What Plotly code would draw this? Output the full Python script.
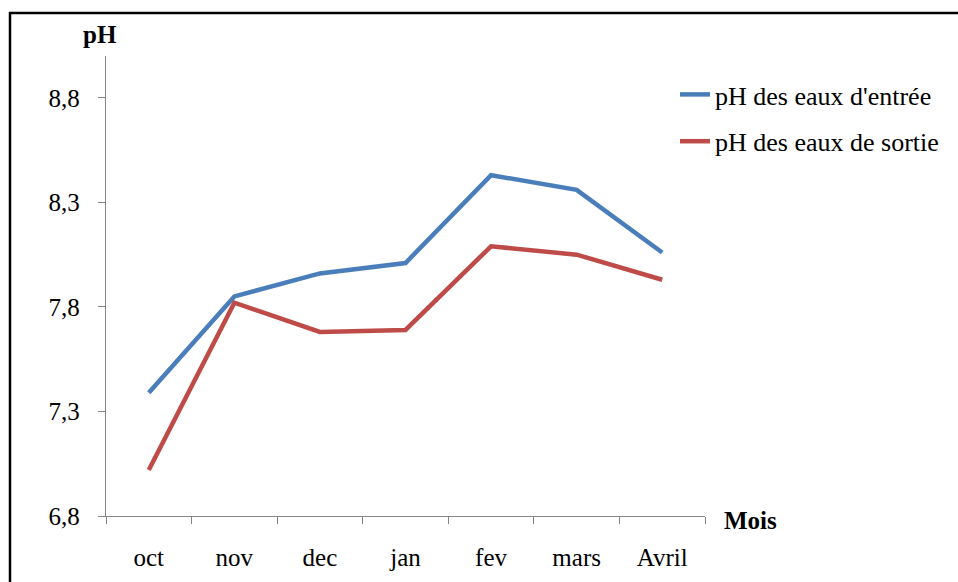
import plotly.graph_objects as go

months = ["oct", "nov", "dec", "jan", "fev", "mars", "Avril"]
ph_entree = [7.39, 7.85, 7.96, 8.01, 8.43, 8.36, 8.06]
ph_sortie = [7.02, 7.82, 7.68, 7.69, 8.09, 8.05, 7.93]
y_tickvals = [6.8, 7.3, 7.8, 8.3, 8.8]
y_ticktext = ["6,8", "7,3", "7,8", "8,3", "8,8"]
series_names = ["pH des eaux d'entrée", "pH des eaux de sortie"]

W, H = 958, 582
L, R, T, B = 106, 253, 56, 66
pw, ph = W - L - R, H - T - B

def px_x(x):
    return (x - L) / pw

def px_y(y):
    return (H - B - y) / ph

FONT = "Liberation Serif, Times New Roman, serif"

fig = go.Figure()
fig.add_trace(go.Scatter(x=months, y=ph_entree, mode="lines", name=series_names[0],
                         line=dict(color="#4A7EBB", width=4.5), legendgroup="a"))
fig.add_trace(go.Scatter(x=months, y=ph_sortie, mode="lines", name=series_names[1],
                         line=dict(color="#BE4B48", width=4.5), legendgroup="b"))

fig.update_layout(
    width=W, height=H, autosize=False,
    margin=dict(l=L, r=R, t=T, b=B),
    paper_bgcolor="white", plot_bgcolor="white",
    font=dict(family=FONT, size=25, color="black"),
    showlegend=True,
    legend=dict(xref="paper", yref="paper", x=px_x(675), y=px_y(71),
                xanchor="left", yanchor="top", font=dict(size=26, family=FONT),
                tracegroupgap=10, bgcolor="rgba(0,0,0,0)"),
    xaxis=dict(type="category", range=[-0.5, 6.5], showline=True, linecolor="#868686",
               linewidth=1.3, ticks="outside", ticklen=7, tickcolor="#868686",
               tickson="boundaries", showgrid=False, zeroline=False, automargin=False,
               tickfont=dict(size=25, family=FONT), ticklabelstandoff=19),
    yaxis=dict(range=[6.8, 9.0], showline=True, linecolor="#868686", linewidth=1.3,
               ticks="outside", ticklen=7, tickcolor="#868686", showgrid=False,
               zeroline=False, tickvals=y_tickvals, ticktext=y_ticktext, automargin=False,
               tickfont=dict(size=25, family=FONT), ticklabelstandoff=13),
)

fig.add_annotation(text="<b>pH</b>", xref="paper", yref="paper",
                   x=px_x(100), y=px_y(35), showarrow=False,
                   font=dict(size=25, family=FONT), xanchor="center", yanchor="middle")
fig.add_annotation(text="<b>Mois</b>", xref="paper", yref="paper",
                   x=px_x(722), y=px_y(520), showarrow=False,
                   font=dict(size=25, family=FONT), xanchor="left", yanchor="middle")

# frame (top and left edges)
fig.add_shape(type="line", xref="paper", yref="paper", x0=px_x(9), x1=px_x(W + 2),
              y0=px_y(13), y1=px_y(13), line=dict(color="black", width=2.5))
fig.add_shape(type="line", xref="paper", yref="paper", x0=px_x(10), x1=px_x(10),
              y0=px_y(12), y1=px_y(H + 2), line=dict(color="black", width=2.5))

fig.write_html(
    "out.html",
    config={"displayModeBar": False},
    post_script="document.body.style.margin='0px';document.body.style.overflow='hidden';",
)
